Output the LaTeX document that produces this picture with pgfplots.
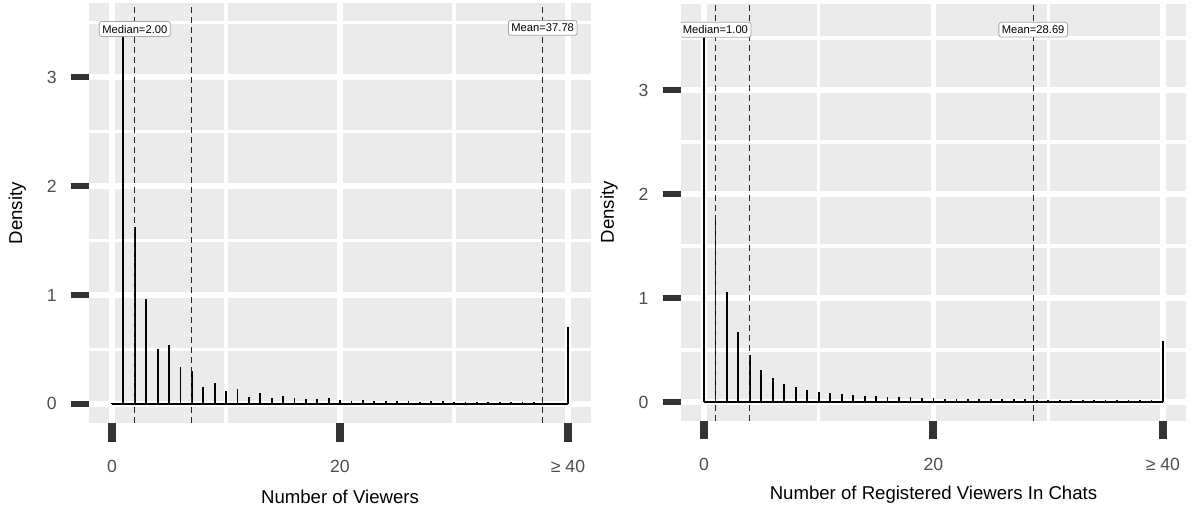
\documentclass[border=0pt]{standalone}
\usepackage{fontspec}
\setmainfont{Liberation Sans}
\usepackage{pgfplots}
\pgfplotsset{compat=1.18}
\definecolor{panel}{HTML}{EBEBEB}
\definecolor{tickc}{HTML}{333333}
\definecolor{labc}{HTML}{4D4D4D}

\pgfplotstableread{
x y
0 0.01
1 3.50
2 1.62
3 0.963
4 0.50
5 0.544
6 0.336
7 0.30
8 0.159
9 0.19
10 0.116
11 0.135
12 0.067
13 0.098
14 0.055
15 0.070
16 0.055
17 0.046
18 0.043
19 0.052
20 0.040
21 0.031
22 0.040
23 0.028
24 0.024
25 0.028
26 0.031
27 0.021
28 0.028
29 0.024
30 0.021
31 0.015
32 0.018
33 0.015
34 0.015
35 0.015
36 0.015
37 0.015
38 0.012
39 0.012
40 0.71
}\viewers

\pgfplotstableread{
x y
0 3.65
1 1.74
2 1.06
3 0.67
4 0.455
5 0.31
6 0.23
7 0.17
8 0.14
9 0.115
10 0.096
11 0.083
12 0.077
13 0.067
14 0.058
15 0.054
16 0.051
17 0.048
18 0.045
19 0.042
20 0.035
21 0.032
22 0.026
23 0.026
24 0.026
25 0.026
26 0.026
27 0.026
28 0.026
29 0.019
30 0.019
31 0.019
32 0.019
33 0.019
34 0.019
35 0.019
36 0.019
37 0.019
38 0.019
39 0.019
40 0.587
}\registered

\tikzset{lab/.style={draw=gray!70, fill=white, rounded corners=1.2pt, inner xsep=1.5pt, inner ysep=1.7pt, line width=0.4pt, font=\fontsize{5.6}{6.5}\selectfont}}

\pgfplotsset{ggstyle/.style={
  scale only axis,
  axis background/.style={fill=panel},
  axis line style={draw=none},
  tick align=outside,
  xtick pos=bottom, ytick pos=left,
  major tick length=9.25pt,
  minor tick length=0pt,
  xmin=-2, xmax=42,
  xtick={0,20,40}, xticklabels={0,20,{≥ 40}},
  minor xtick={10,30},
  ytick={0,1,2,3}, yticklabels={0,1,2,3},
  minor ytick={0.5,1.5,2.5,3.5},
  grid=both,
  major grid style={white, line width=2.7pt},
  minor grid style={white, line width=1.6pt},
  xtick style={draw=tickc, line width=4pt},
  ytick style={draw=tickc, line width=3pt},
  ticklabel style={font=\fontsize{8.8}{10}\selectfont, text=labc},
  xticklabel style={yshift=-6pt},
  yticklabel style={xshift=-3.5pt},
  every axis x label/.style={at={(axis description cs:0.5,0)}, anchor=center, yshift=-37pt, font=\fontsize{9.3}{11}\selectfont},
  every axis y label/.style={at={(axis description cs:0,0.5)}, anchor=center, rotate=90, yshift=36pt, font=\fontsize{9.3}{11}\selectfont},
  spike/.style={ycomb, black, line width=0.9pt, mark=none},
  base/.style={black, line width=0.7pt, mark=none},
  vline/.style={black!85, line width=0.5pt, dash pattern=on 3pt off 2pt, mark=none},
}}

\begin{document}
\begin{tikzpicture}
\path[use as bounding box] (0,0) rectangle (596pt,255.5pt);
\begin{axis}[ggstyle,
  at={(44.6pt,44pt)}, anchor=south west,
  width=250.8pt, height=209.8pt,
  ymin=-0.175, ymax=3.675,
  xlabel={Number of Viewers}, ylabel={Density}]
\addplot[base] coordinates {(0,0) (40,0)};
\addplot[spike] table[x=x,y=y] {\viewers};
\addplot[vline] coordinates {(2,-0.175) (2,3.675)};
\addplot[vline] coordinates {(7,-0.175) (7,3.675)};
\addplot[vline] coordinates {(37.78,-0.175) (37.78,3.675)};
\node[lab] at (axis cs:2,3.44) {Median=2.00};
\node[lab] at (axis cs:37.78,3.45) {Mean=37.78};
\end{axis}
\begin{axis}[ggstyle,
  at={(340.5pt,45.15pt)}, anchor=south west,
  width=252.45pt, height=208.5pt,
  ymin=-0.18, ymax=3.83,
  xlabel={Number of Registered Viewers In Chats}, ylabel={Density}]
\addplot[base] coordinates {(0,0) (40,0)};
\addplot[spike] table[x=x,y=y] {\registered};
\addplot[vline] coordinates {(1,-0.18) (1,3.83)};
\addplot[vline] coordinates {(4,-0.18) (4,3.83)};
\addplot[vline] coordinates {(28.69,-0.18) (28.69,3.83)};
\node[lab] at (axis cs:1,3.58) {Median=1.00};
\node[lab] at (axis cs:28.69,3.58) {Mean=28.69};
\end{axis}
\end{tikzpicture}
\end{document}
